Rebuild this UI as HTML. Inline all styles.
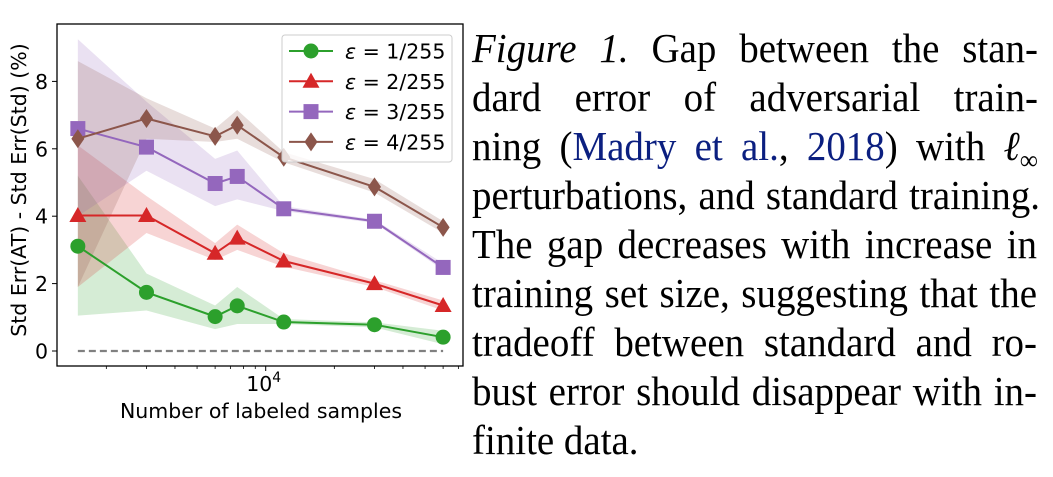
<!DOCTYPE html>
<html><head><meta charset="utf-8"><style>
html,body{margin:0;padding:0;background:#fff;}
svg{display:block;position:absolute;left:0;top:0;}
#cap{position:absolute;left:472px;top:0;width:567px;font-family:"Liberation Serif",serif;font-size:41px;color:#000;}
#cap .ln{position:absolute;left:0;height:49px;line-height:49px;white-space:nowrap;transform-origin:0 50%;}
#cap .blue{color:#0b1f80;}
</style></head><body>
<svg id="fig" width="1053" height="477" viewBox="0 0 1053 477" xmlns="http://www.w3.org/2000/svg">
<g id="chart"></g>
</svg>
<div id="cap">
<div class="ln" data-w="566" style="top:24px"><i>Figure 1.</i> Gap between the stan-</div>
<div class="ln" data-w="566" style="top:73px">dard error of adversarial train-</div>
<div class="ln" data-w="566" style="top:122px">ning (<span class="blue">Madry et al.</span>, <span class="blue">2018</span>) with <i>ℓ</i><sub style="font-size:27px">∞</sub></div>
<div class="ln" data-w="568" style="top:171px">perturbations, and standard training.</div>
<div class="ln" data-w="565" style="top:220px">The gap decreases with increase in</div>
<div class="ln" data-w="565" style="top:269px">training set size, suggesting that the</div>
<div class="ln" data-w="565" style="top:318px">tradeoff between standard and ro-</div>
<div class="ln" data-w="565" style="top:367px">bust error should disappear with in-</div>
<div class="ln" data-w="0" style="top:416px">finite data.</div>
</div>
<script>
const samples = [1500, 3000, 6000, 7500, 12000, 30000, 60000];
const seriesLabels = ['ε = 1/255', 'ε = 2/255', 'ε = 3/255', 'ε = 4/255'];
const eps1 = [3.11, 1.74, 1.02, 1.34, 0.86, 0.78, 0.41];
const eps2 = [4.02, 4.02, 2.90, 3.35, 2.67, 2.00, 1.35];
const eps3 = [6.60, 6.05, 4.97, 5.18, 4.22, 3.85, 2.48];
const eps4 = [6.30, 6.90, 6.37, 6.70, 5.75, 4.87, 3.67];
const eps1Low = [1.05, 1.20, 0.65, 0.80, 0.80, 0.70, 0.20];
const eps1High = [5.20, 2.30, 1.35, 1.90, 0.95, 0.85, 0.60];
const eps2Low = [1.90, 3.50, 2.70, 3.00, 2.50, 1.90, 1.20];
const eps2High = [6.10, 4.60, 3.20, 3.75, 2.90, 2.10, 1.50];
const eps3Low = [4.00, 5.35, 4.30, 4.50, 4.15, 3.80, 2.40];
const eps3High = [9.25, 7.40, 5.70, 5.95, 4.30, 3.90, 2.60];
const eps4Low = [1.90, 6.30, 6.20, 6.30, 5.60, 4.70, 3.50];
const eps4High = [8.60, 7.50, 6.60, 7.15, 5.90, 5.10, 3.85];
const yTicks = [0, 2, 4, 6, 8];

// caption justification
const NAT_SCALE = 0.95;
document.querySelectorAll('#cap .ln').forEach(el => {
  const target = +el.getAttribute('data-w');
  const w = el.getBoundingClientRect().width;
  if (!target) { el.style.transform = 'scaleX(' + NAT_SCALE + ')'; return; }
  const spaces = (el.textContent.match(/ /g) || []).length;
  const sw = w * NAT_SCALE;
  if (sw <= target && spaces) {
    el.style.wordSpacing = ((target - sw) / NAT_SCALE / spaces) + 'px';
    el.style.transform = 'scaleX(' + NAT_SCALE + ')';
  } else {
    el.style.transform = 'scaleX(' + (target / w) + ')';
  }
});

const NS = 'http://www.w3.org/2000/svg';
const L = 57, R = 463, T = 24, B = 366;
const X0 = 265.7, DEC = 228;
function xs(v){ return X0 + DEC * Math.log10(v / 10000); }
function ys(v){ return 351 - 33.7 * v; }
const g = document.getElementById('chart');
function mk(tag, attrs, parent){
  const e = document.createElementNS(NS, tag);
  for (const k in attrs) e.setAttribute(k, attrs[k]);
  (parent || g).appendChild(e);
  return e;
}
const FONT = 'DejaVu Sans, Liberation Sans, sans-serif';
const FS = 20.5;

const frame = mk('rect', {x:L, y:T, width:R-L, height:B-T, fill:'none', stroke:'#000', 'stroke-width':1.3});



yTicks.forEach(t => {
  const y = ys(t);
  const tk = mk('line', {x1:L-5, x2:L, y1:y, y2:y, stroke:'#000', 'stroke-width':1});
  
  
  const lb = mk('text', {x:L-9, y:y+7.5, 'text-anchor':'end', 'font-family':FONT, 'font-size':FS});
  
  
  lb.textContent = t;
});
[2000,3000,4000,5000,6000,7000,8000,9000,20000,30000,40000,50000,60000,70000].forEach(v => {
  const x = xs(v);
  if (x < L || x > R) return;
  const tk = mk('line', {x1:x, x2:x, y1:B, y2:B+3, stroke:'#000', 'stroke-width':0.8});
  
  
});
const major = mk('line', {x1:xs(10000), x2:xs(10000), y1:B, y2:B+5, stroke:'#000', 'stroke-width':1});


const xl = mk('text', {x:xs(10000)-2, y:391, 'text-anchor':'middle', 'font-family':FONT, 'font-size':FS});


xl.innerHTML = '10<tspan font-size="14" dy="-9">4</tspan>';

const xt = mk('text', {x:261, y:418, 'text-anchor':'middle', 'font-family':FONT, 'font-size':FS});


xt.textContent = 'Number of labeled samples';
const yt = mk('text', {x:0, y:0, 'text-anchor':'middle', 'font-family':FONT, 'font-size':FS, transform:'translate(26,190) rotate(-90)'});


yt.textContent = 'Std Err(AT) - Std Err(Std) (%)';

const zl = mk('line', {x1:xs(samples[0]), x2:xs(samples[samples.length-1]), y1:ys(0), y2:ys(0), stroke:'#808080', 'stroke-width':2.2, 'stroke-dasharray':'7,4'});



const colors = ['#2ca02c', '#d62728', '#9467bd', '#8c564b'];
const vals = [eps1, eps2, eps3, eps4];
const lows = [eps1Low, eps2Low, eps3Low, eps4Low];
const highs = [eps1High, eps2High, eps3High, eps4High];
const shapes = ['circle', 'triangle', 'square', 'diamond'];

function marker(shape, x, y, c, parent){
  let e;
  if (shape === 'circle') e = mk('circle', {cx:x, cy:y, r:7.5, fill:c}, parent);
  else if (shape === 'triangle') e = mk('polygon', {points:`${x},${y-8.5} ${x-8.5},${y+6.5} ${x+8.5},${y+6.5}`, fill:c}, parent);
  else if (shape === 'square') e = mk('rect', {x:x-7.5, y:y-7.5, width:15, height:15, fill:c}, parent);
  else e = mk('polygon', {points:`${x},${y-9.5} ${x+6.5},${y} ${x},${y+9.5} ${x-6.5},${y}`, fill:c}, parent);
  return e;
}

for (let s = 0; s < 4; s++) {
  let d = '';
  samples.forEach((v,i) => { d += (i ? 'L' : 'M') + xs(v) + ',' + ys(highs[s][i]); });
  for (let i = samples.length-1; i >= 0; i--) d += 'L' + xs(samples[i]) + ',' + ys(lows[s][i]);
  const b = mk('path', {d:d+'Z', fill:colors[s], 'fill-opacity':0.2});
  
  
}
for (let s = 0; s < 4; s++) {
  const pts = samples.map((v,i) => xs(v) + ',' + ys(vals[s][i])).join(' ');
  const ln = mk('polyline', {points:pts, fill:'none', stroke:colors[s], 'stroke-width':2});
  
  
  samples.forEach((v,i) => {
    const m = marker(shapes[s], xs(v), ys(vals[s][i]), colors[s]);
    
    
  });
}

const lg = mk('g', {});


const lbox = mk('rect', {x:282, y:35, width:170, height:127, rx:3, fill:'#fff', 'fill-opacity':0.8, stroke:'#ccc', 'stroke-width':1}, lg);


for (let s = 0; s < 4; s++) {
  const y = 51 + s * 30.3;
  const ent = mk('g', {}, lg);
  
  
  mk('line', {x1:289, x2:333, y1:y, y2:y, stroke:colors[s], 'stroke-width':2}, ent);
  marker(shapes[s], 311, y, colors[s], ent);
  const t = mk('text', {x:345, y:y+7.5, 'font-family':FONT, 'font-size':FS}, ent);
  t.innerHTML = '<tspan font-style="italic">ε</tspan> = ' + (s+1) + '/255';
}
</script>
</body></html>
